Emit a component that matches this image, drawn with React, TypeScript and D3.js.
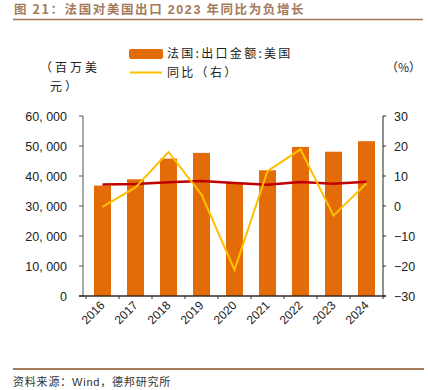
import React from "react";
import * as d3 from "d3";

const years = ["2016", "2017", "2018", "2019", "2020", "2021", "2022", "2023", "2024"];
const exports = [36800, 38900, 45800, 47700, 37800, 41900, 49700, 48100, 51600];
const yoy = [-0.3, 6.2, 18.0, 3.8, -21.3, 11.6, 18.9, -3.2, 7.6];
const redLine = [7.2, 7.3, 7.9, 8.3, 7.7, 7.1, 8.0, 7.4, 8.1];
const leftTicks = [0, 10000, 20000, 30000, 40000, 50000, 60000];
const rightTicks = [-30, -20, -10, 0, 10, 20, 30];

const W = 428;
const H = 390;
const FONT = "'Liberation Sans', Arial, sans-serif";
const CJK = "'Noto Sans CJK SC', sans-serif";

export default function App() {
  const x0 = 86, x1 = 383, yTop = 116, yBot = 296, axL = 83;
  const band = d3.scaleBand<string>().domain(years).range([x0, x1]);
  const yL = d3.scaleLinear().domain([0, 60000]).range([yBot, yTop]);
  const yR = d3.scaleLinear().domain([-30, 30]).range([yBot, yTop]);
  const cx = (y: string) => (band(y) as number) + band.bandwidth() / 2;
  const line = d3.line<number>().x((_, i) => cx(years[i])).y((d) => yR(d));
  const fmt = (v: number) => (v === 0 ? "0" : d3.format(",")(v).replace(",", ", "));
  const fmtR = (v: number) => (v < 0 ? "\u2212" + Math.abs(v) : String(v));
  const titleColor = "#A47A5A";
  const bw = 17;

  return (
    <svg width={W} height={H} style={{ position: "absolute", left: 0, top: 0, background: "#fff" }}>
      <text x={14} y={14} fontFamily={CJK} fontSize={12.5} fontWeight="bold" fill={titleColor} letterSpacing={1.6}>
        图 21：法国对美国出口 <tspan fontFamily={FONT} fontWeight="bold">2023</tspan> 年同比为负增长
      </text>
      <line x1={13} x2={423} y1={19.5} y2={19.5} stroke={titleColor} strokeWidth={1.3} />

      {/* legend */}
      <rect x={129} y={49} width={34} height={10} rx={2} fill="#E36C09" />
      <text x={167} y={58} fontFamily={CJK} fontSize={12} fill="#222" letterSpacing={2.3}>法国:出口金额:美国</text>
      <line x1={130} x2={162} y1={72.5} y2={72.5} stroke="#FFC000" strokeWidth={2} />
      <text x={167} y={77} fontFamily={CJK} fontSize={12} fill="#222" letterSpacing={2.3}>同比（右）</text>

      <text x={40} y={72} fontFamily={CJK} fontSize={12} fill="#222" letterSpacing={3}>（百万美</text>
      <text x={50} y={91} fontFamily={CJK} fontSize={12} fill="#222" letterSpacing={3}>元）</text>
      <text x={386} y={72} fontFamily={CJK} fontSize={12} fill="#222">（%）</text>

      {/* bars */}
      {years.map((yr, i) => (
        <rect key={yr} x={cx(yr) - bw / 2} y={yL(exports[i])} width={bw} height={yBot - yL(exports[i])} fill="#E36C09" />
      ))}

      {/* left axis */}
      <line x1={axL} x2={axL} y1={yTop} y2={yBot} stroke="#555" strokeWidth={1} />
      {leftTicks.map((t) => (
        <g key={t}>
          <line x1={axL - 4} x2={axL} y1={yL(t)} y2={yL(t)} stroke="#555" />
          <text x={67} y={yL(t) + 4.5} textAnchor="end" fontFamily={FONT} fontSize={12.5} fill="#222">{fmt(t)}</text>
        </g>
      ))}

      {/* right axis */}
      <line x1={x1} x2={x1} y1={yTop} y2={yBot + 3} stroke="#222" strokeWidth={1} />
      {rightTicks.map((t) => (
        <g key={t}>
          <line x1={x1} x2={x1 + 3} y1={yR(t)} y2={yR(t)} stroke="#222" />
          <text x={x1 + 11} y={yR(t) + 4.5} fontFamily={FONT} fontSize={12.5} fill="#222">{fmtR(t)}</text>
        </g>
      ))}

      {/* x axis */}
      <line x1={axL - 4} x2={x1 + 3} y1={yBot} y2={yBot} stroke="#3a2a20" strokeWidth={1.3} />
      {years.map((yr) => (
        <line key={"t" + yr} x1={(band(yr) as number)} x2={(band(yr) as number)} y1={yBot} y2={yBot + 3} stroke="#333" />
      ))}
      {years.map((yr) => (
        <text key={"l" + yr} transform={`translate(${cx(yr) + 3},${yBot + 10}) rotate(-45)`} textAnchor="end" fontFamily={FONT} fontSize={12} fill="#222">{yr}</text>
      ))}

      {/* lines */}
      <path d={line(redLine) as string} fill="none" stroke="#C00000" strokeWidth={2.5} />
      <path d={line(yoy) as string} fill="none" stroke="#FFC000" strokeWidth={2} />

      <line x1={13} x2={424} y1={369} y2={369} stroke={titleColor} strokeWidth={2} />
      <text x={13} y={386} fontFamily={CJK} fontSize={11} fill="#333" letterSpacing={0.8}>
        资料来源：<tspan fontFamily={FONT}>Wind</tspan>，德邦研究所
      </text>
    </svg>
  );
}
